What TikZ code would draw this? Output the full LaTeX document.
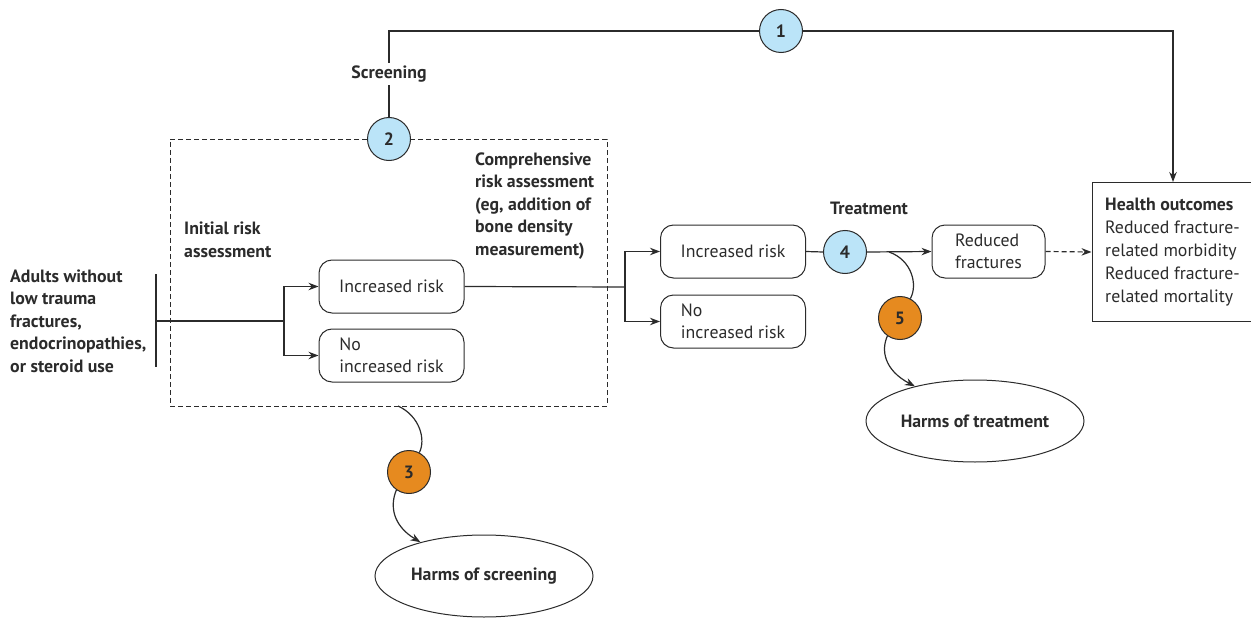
\documentclass[tikz,border=0pt]{standalone}
\usepackage{fontspec}
\setmainfont{PT Sans}
\usetikzlibrary{shapes.geometric,arrows.meta,backgrounds}
\definecolor{lc}{HTML}{2B2B2B}
\definecolor{bluec}{HTML}{BBE4F8}
\definecolor{orangec}{HTML}{E68A1F}
\begin{document}
\begin{tikzpicture}[x=1pt,y=-1pt,
  txt/.style={font=\fontsize{17.8}{22.5}\selectfont, text=lc},
  btxt/.style={font=\fontsize{17.8}{22.5}\selectfont\bfseries, text=lc},
  link/.style={draw=lc, line width=1.2pt},
  arr/.style={link, -{Stealth[length=10pt,width=7.5pt]}},
  rbox/.style={draw=lc, line width=1pt, rounded corners=13pt, minimum width=145pt,
    minimum height=53pt, inner sep=0pt, align=left, txt},
  kq/.style={circle, draw=lc, line width=1pt, minimum size=43pt, inner sep=0pt, btxt},
  harm/.style={ellipse, draw=lc, line width=1pt, minimum width=218pt, minimum height=82pt, inner sep=0pt, btxt},
  dashbox/.style={draw=lc, line width=1pt, dash pattern=on 5pt off 3pt}
]
\useasboundingbox (0,0) rectangle (1251,618);

% population
\node[btxt, anchor=west, align=left, inner sep=0pt] (pop) at (10,321)
  {Adults without\\low trauma\\fractures,\\endocrinopathies,\\or steroid use};
\coordinate (bt) at (156,274);
\coordinate (bb) at (156,367);
\coordinate (bm) at (156,321);
\coordinate (br1) at (284,321);
\coordinate (br2) at (625,287);

% screening dashed region
\node[dashbox, minimum width=437pt, minimum height=267pt, inner sep=0pt] (scr) at (388.5,272.5) {};
\node[btxt, anchor=west, align=left, inner sep=0pt] (init) at (184,240) {Initial risk\\assessment};
\node[btxt, anchor=west, align=left, inner sep=0pt] (comp) at (475,206)
  {Comprehensive\\risk assessment\\(eg, addition of\\bone density\\measurement)};

% boxes
\node[rbox] (inc1) at (391.5,286.5) {Increased risk};
\node[rbox] (no1) at (391.5,355.5) {No\\increased risk};
\node[rbox] (inc2) at (733,251.5) {Increased risk};
\node[rbox] (no2) at (733,321.5) {No\\increased risk};
\node[rbox, minimum width=113pt] (red) at (988.5,251.5) {Reduced\\fractures};
\node[draw=lc, line width=1pt, minimum width=159pt, minimum height=139pt, inner sep=0pt] (ho) at (1171.5,252) {};
\node[txt, anchor=west, align=left, inner sep=0pt] (hot) at (1105,252)
  {\textbf{Health outcomes}\\[1pt]Reduced fracture-\\related morbidity\\[1pt]Reduced fracture-\\related mortality};

\node[btxt, inner sep=0pt] (treat) at (869,208) {Treatment};

% harms
\node[harm] (hs) at (484,576) {Harms of screening};
\node[harm] (ht) at (975,421) {Harms of treatment};

% key question circles
\node[kq, fill=bluec] (c1) at (781,31) {1};
\node[kq, fill=bluec] (c2) at (389,139) {2};
\node[kq, fill=orangec] (c3) at (409,472) {3};
\node[kq, fill=bluec] (c4) at (845,252) {4};
\node[kq, fill=orangec] (c5) at (900,318) {5};

\node[btxt, fill=white, inner sep=3pt] (scrl) at (389,74) {Screening};

\coordinate (s3) at (398,406);
\coordinate (s5) at (889,252);

\begin{scope}[on background layer]
  \draw[link] (bt) -- (bb);
  \draw[link] (bm) -- (br1);
  \draw[arr] (br1) |- (inc1.west);
  \draw[arr] (br1) |- (no1.west);
  \draw[link] (inc1.east) -- (br2);
  \draw[arr] (br2) |- (inc2.west);
  \draw[arr] (br2) |- (no2.west);
  \draw[link] (inc2.east) -- (c4.west);
  \draw[arr] (c4.east) -- (red.west);
  \draw[arr, dash pattern=on 5pt off 3pt] (red.east) -- (ho.west);
  \draw[link] (c2.north) |- (c1.west);
  \draw[arr] (c1.east) -| (ho.north -| 1173,0);
  \draw[link] (s3) .. controls (420,416) and (426,440) .. (c3.62);
  \draw[arr] (c3.235) .. controls (390,505) and (392,525) .. (hs.152);
  \draw[link] (s5) .. controls (912,260) and (918,285) .. (c5.62);
  \draw[arr] (c5.235) .. controls (881,350) and (884,370) .. (ht.150);
\end{scope}
\end{tikzpicture}
\end{document}
